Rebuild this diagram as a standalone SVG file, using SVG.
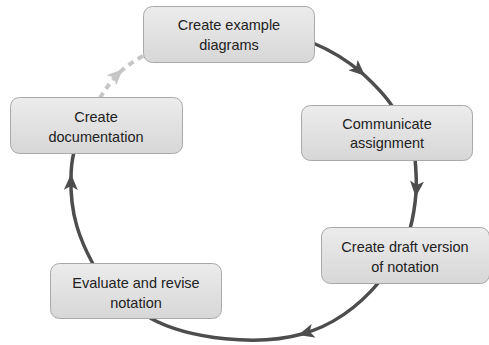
<svg xmlns="http://www.w3.org/2000/svg" width="489" height="345" viewBox="0 0 489 345">
<style>
.node rect{fill:url(#g);stroke:#a9a9a9;stroke-width:1}
.node text{font-family:"Liberation Sans",Arial,sans-serif;font-size:14.5px;fill:#222;text-anchor:middle}
.c{fill:none;stroke:#4d4d4d;stroke-width:3.5;marker-mid:url(#ah)}
.d{fill:none;stroke:#c6c6c6;stroke-width:4;stroke-dasharray:6 5;marker-mid:url(#ahl)}
</style>
<defs>
<linearGradient id="g" x1="0" y1="0" x2="0" y2="1">
<stop offset="0" stop-color="#ececec"/>
<stop offset="1" stop-color="#d7d7d7"/>
</linearGradient>
<marker id="ah" viewBox="0 0 16 14" refX="12" refY="7" markerWidth="16" markerHeight="14" markerUnits="userSpaceOnUse" orient="auto">
<path d="M0 0 L16 7 L0 14 L4 7 Z" fill="#4d4d4d"/>
</marker>
<marker id="ahl" viewBox="0 0 16 14" refX="12" refY="7" markerWidth="16" markerHeight="14" markerUnits="userSpaceOnUse" orient="auto">
<path d="M0 0 L16 7 L0 14 L4 7 Z" fill="#c6c6c6"/>
</marker>
</defs>
<g id="connectors">
<path class="c" d="M313 43 C330 50 348 61 362 73 C374 84 385 95 392 106"/>
<path class="c" d="M415 158 C416 170 417 182 416 193 C415 206 413 218 410 229"/>
<path class="c" d="M380 281 C360 305 335 325 302 334 C260 346 190 340 150 318"/>
<path class="c" d="M93 264 C80 240 70 215 71 178 C71 168 72 160 74 152"/>
<path class="d" d="M100 98 Q108 84 120 72 Q130 63 143 56"/>
</g>
<g id="n1" class="node"><rect x="143.5" y="6.5" width="171" height="56" rx="9"/><text x="229" y="30">Create example</text><text x="229" y="50">diagrams</text></g>
<g id="n2" class="node"><rect x="301.5" y="105.5" width="171" height="55" rx="9"/><text x="387" y="129">Communicate</text><text x="387" y="148">assignment</text></g>
<g id="n3" class="node"><rect x="321.5" y="227.5" width="168" height="56" rx="9"/><text x="405" y="252">Create draft version</text><text x="405" y="272">of notation</text></g>
<g id="n4" class="node"><rect x="50.5" y="263.5" width="171" height="55" rx="9"/><text x="136" y="288">Evaluate and revise</text><text x="136" y="308">notation</text></g>
<g id="n5" class="node"><rect x="10.5" y="97.5" width="172" height="56" rx="9"/><text x="96" y="122">Create</text><text x="96" y="142">documentation</text></g>
</svg>
